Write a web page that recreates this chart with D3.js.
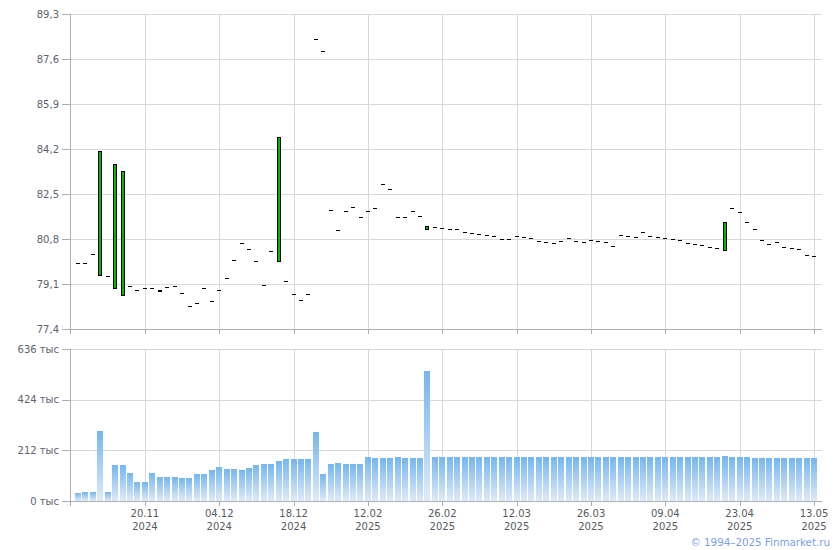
<!DOCTYPE html>
<html lang="ru">
<head>
<meta charset="utf-8">
<title>Котировки и объём торгов</title>
<script src="https://d3js.org/d3.v7.min.js"></script>
<style>
body { margin: 0; background: #fff; }
svg { display: block; font-family: "DejaVu Sans", Verdana, sans-serif; }
.grid line { stroke: #d5d9dd; shape-rendering: crispEdges; }
.axis line, .axis path { stroke: #a9afb6; shape-rendering: crispEdges; }
.ylab { font-size: 10px; fill: #5e6170; }
.xlab { font-size: 10px; fill: #555a60; }
.copy { font-size: 10.3px; fill: #7c9ee6; }
</style>
</head>
<body>
<div id="chart"></div>
<script>

// price per trading day (open / close), dashes are days with open == close
var openPrice = [79.88, 79.88, 80.22, 79.41, 79.39, 78.90, 78.66, 79.01, 78.86, 78.95,
  78.95, 78.86, 78.99, 79.01, 78.76, 78.27, 78.37, 78.95, 78.45, 78.86,
  79.32, 80.01, 80.65, 80.41, 79.97, 79.05, 80.35, 79.92, 79.20, 78.71,
  78.48, 78.71, 88.34, 87.90, 81.88, 81.13, 81.85, 82.00, 81.62, 81.85,
  81.96, 82.87, 82.68, 81.62, 81.62, 81.85, 81.66, 81.13, 81.24, 81.20,
  81.17, 81.17, 81.05, 81.01, 80.98, 80.94, 80.90, 80.79, 80.79, 80.90,
  80.86, 80.83, 80.71, 80.68, 80.64, 80.71, 80.83, 80.71, 80.68, 80.75,
  80.71, 80.68, 80.52, 80.94, 80.90, 80.86, 81.05, 80.90, 80.86, 80.83,
  80.79, 80.75, 80.64, 80.60, 80.56, 80.49, 80.45, 80.34, 81.96, 81.81,
  81.43, 81.17, 80.75, 80.60, 80.68, 80.49, 80.45, 80.41, 80.18, 80.15];

var closePrice = [79.88, 79.88, 80.22, 84.12, 79.39, 83.62, 83.36, 79.01, 78.86, 78.95,
  78.95, 78.82, 78.99, 79.01, 78.76, 78.27, 78.37, 78.95, 78.45, 78.86,
  79.32, 80.01, 80.65, 80.41, 79.97, 79.05, 80.35, 84.64, 79.20, 78.71,
  78.48, 78.71, 88.34, 87.90, 81.88, 81.13, 81.85, 82.00, 81.62, 81.85,
  81.96, 82.87, 82.68, 81.62, 81.62, 81.85, 81.66, 81.28, 81.24, 81.20,
  81.17, 81.17, 81.05, 81.01, 80.98, 80.94, 80.90, 80.79, 80.79, 80.90,
  80.86, 80.83, 80.71, 80.68, 80.64, 80.71, 80.83, 80.71, 80.68, 80.75,
  80.71, 80.68, 80.52, 80.94, 80.90, 80.86, 81.05, 80.90, 80.86, 80.83,
  80.79, 80.75, 80.64, 80.60, 80.56, 80.49, 80.45, 81.43, 81.96, 81.81,
  81.43, 81.17, 80.75, 80.60, 80.68, 80.49, 80.45, 80.41, 80.18, 80.15];

// volume, thousands
var volume = [34, 38, 38, 294, 38, 151, 151, 118, 80, 80,
  118, 101, 101, 101, 97, 97, 113, 113, 130, 143,
  134, 134, 130, 139, 151, 155, 155, 168, 176, 176,
  176, 176, 290, 113, 155, 160, 155, 155, 155, 185,
  181, 181, 181, 185, 181, 181, 181, 546, 185, 185,
  185, 185, 185, 185, 185, 185, 185, 185, 185, 185,
  185, 185, 185, 185, 185, 185, 185, 185, 185, 185,
  185, 185, 185, 185, 185, 185, 185, 185, 185, 185,
  185, 185, 185, 185, 185, 185, 185, 189, 185, 185,
  185, 181, 181, 181, 181, 181, 181, 181, 181, 181];

var tickDays = [9, 19, 29, 39, 49, 59, 69, 79, 89, 99];
var tickDates = ["20.11", "04.12", "18.12", "12.02", "26.02", "12.03", "26.03", "09.04", "23.04", "13.05"];
var tickYears = ["2024", "2024", "2024", "2025", "2025", "2025", "2025", "2025", "2025", "2025"];

var priceTicks = [77.4, 79.1, 80.8, 82.5, 84.2, 85.9, 87.6, 89.3];
var volumeTicks = [0, 212, 424, 636];

// layout
var W = 840, H = 550;
var left = 70, right = 822;
var priceTop = 14, priceBottom = 329;
var volTop = 349, volBottom = 501;

var svg = d3.select("#chart").append("svg")
    .attr("width", W)
    .attr("height", H);

var defs = svg.append("defs");
var grad = defs.append("linearGradient")
    .attr("id", "volgrad")
    .attr("x1", 0).attr("y1", 0).attr("x2", 0).attr("y2", 1);
grad.append("stop").attr("offset", "0%").attr("stop-color", "#74b6ef");
grad.append("stop").attr("offset", "100%").attr("stop-color", "#dfeaf8");

var days = d3.range(volume.length);

var x = d3.scaleBand()
    .domain(days)
    .range([left, right])
    .paddingInner(0.19)
    .paddingOuter(0.67);
var cx = function(i) { return x(i) + x.bandwidth() / 2; };

var yPrice = d3.scaleLinear().domain([77.4, 89.3]).range([priceBottom, priceTop]);
var yVol = d3.scaleLinear().domain([0, 636]).range([volBottom, volTop]);

var crisp = function(v) { return Math.round(v) + 0.5; };

// ---------- grids ----------
function drawGrid(yScale, ticks, top, bottom) {
  var g = svg.append("g").attr("class", "grid");
  g.selectAll(".h").data(ticks).enter().append("line")
    .attr("x1", left).attr("x2", right)
    .attr("y1", function(d) { return crisp(yScale(d)); })
    .attr("y2", function(d) { return crisp(yScale(d)); });
  g.selectAll(".v").data(tickDays).enter().append("line")
    .attr("x1", function(d) { return crisp(cx(d)); })
    .attr("x2", function(d) { return crisp(cx(d)); })
    .attr("y1", top).attr("y2", bottom);
}
drawGrid(yPrice, priceTicks, priceTop, priceBottom);
drawGrid(yVol, volumeTicks, volTop, volBottom);

// ---------- axes ----------
function drawAxes(yScale, ticks, top, bottom, fmt) {
  var g = svg.append("g").attr("class", "axis");
  g.append("line")
    .attr("x1", crisp(left)).attr("x2", crisp(left))
    .attr("y1", top).attr("y2", bottom + 5);
  g.append("line")
    .attr("x1", left).attr("x2", right)
    .attr("y1", crisp(bottom)).attr("y2", crisp(bottom));
  g.selectAll(".yt").data(ticks).enter().append("line")
    .attr("x1", left - 8).attr("x2", left)
    .attr("y1", function(d) { return crisp(yScale(d)); })
    .attr("y2", function(d) { return crisp(yScale(d)); });
  g.selectAll(".xt").data(tickDays).enter().append("line")
    .attr("x1", function(d) { return crisp(cx(d)); })
    .attr("x2", function(d) { return crisp(cx(d)); })
    .attr("y1", bottom).attr("y2", bottom + 5);
  svg.append("g").selectAll("text").data(ticks).enter().append("text")
    .attr("class", "ylab")
    .attr("x", left - 11)
    .attr("y", function(d) { return yScale(d) + 3.5; })
    .attr("text-anchor", "end")
    .text(fmt);
}
drawAxes(yPrice, priceTicks, priceTop, priceBottom,
  function(d) { return d3.format(".1f")(d).replace(".", ","); });
drawAxes(yVol, volumeTicks, volTop, volBottom,
  function(d) { return d + " тыс"; });

// date labels under the volume chart
var xl = svg.append("g").selectAll("text").data(tickDays).enter().append("text")
    .attr("class", "xlab")
    .attr("text-anchor", "middle")
    .attr("x", function(d) { return cx(d); });
xl.append("tspan").attr("x", function(d) { return cx(d); }).attr("y", 517)
    .text(function(d, i) { return tickDates[i]; });
xl.append("tspan").attr("x", function(d) { return cx(d); }).attr("y", 529.5)
    .text(function(d, i) { return tickYears[i]; });

// ---------- volume bars ----------
svg.append("g").selectAll("rect").data(days).enter().append("rect")
    .attr("x", function(i) { return Math.round(x(i)); })
    .attr("width", 6)
    .attr("y", function(i) { return Math.round(yVol(volume[i])); })
    .attr("height", function(i) { return volBottom - Math.round(yVol(volume[i])); })
    .attr("fill", "url(#volgrad)");

// ---------- candles ----------
var candles = svg.append("g");
days.forEach(function(i) {
  var o = openPrice[i], c = closePrice[i];
  var xc = Math.round(cx(i));
  if (o === c) {
    candles.append("rect")
      .attr("x", xc - 2).attr("width", 4)
      .attr("y", Math.round(yPrice(c))).attr("height", 1)
      .attr("fill", "#000");
  } else {
    var top = Math.round(yPrice(Math.max(o, c)));
    var bot = Math.round(yPrice(Math.min(o, c)));
    candles.append("rect")
      .attr("x", xc - 1.5).attr("width", 3)
      .attr("y", top + 0.5).attr("height", Math.max(bot - top - 1, 1))
      .attr("fill", c > o ? "#00bb00" : "#000")
      .attr("stroke", "#000")
      .attr("stroke-width", 1);
  }
});

svg.append("text")
    .attr("class", "copy")
    .attr("x", 830)
    .attr("y", 545.5)
    .attr("text-anchor", "end")
    .text("© 1994–2025 Finmarket.ru");

</script>
</body>
</html>
